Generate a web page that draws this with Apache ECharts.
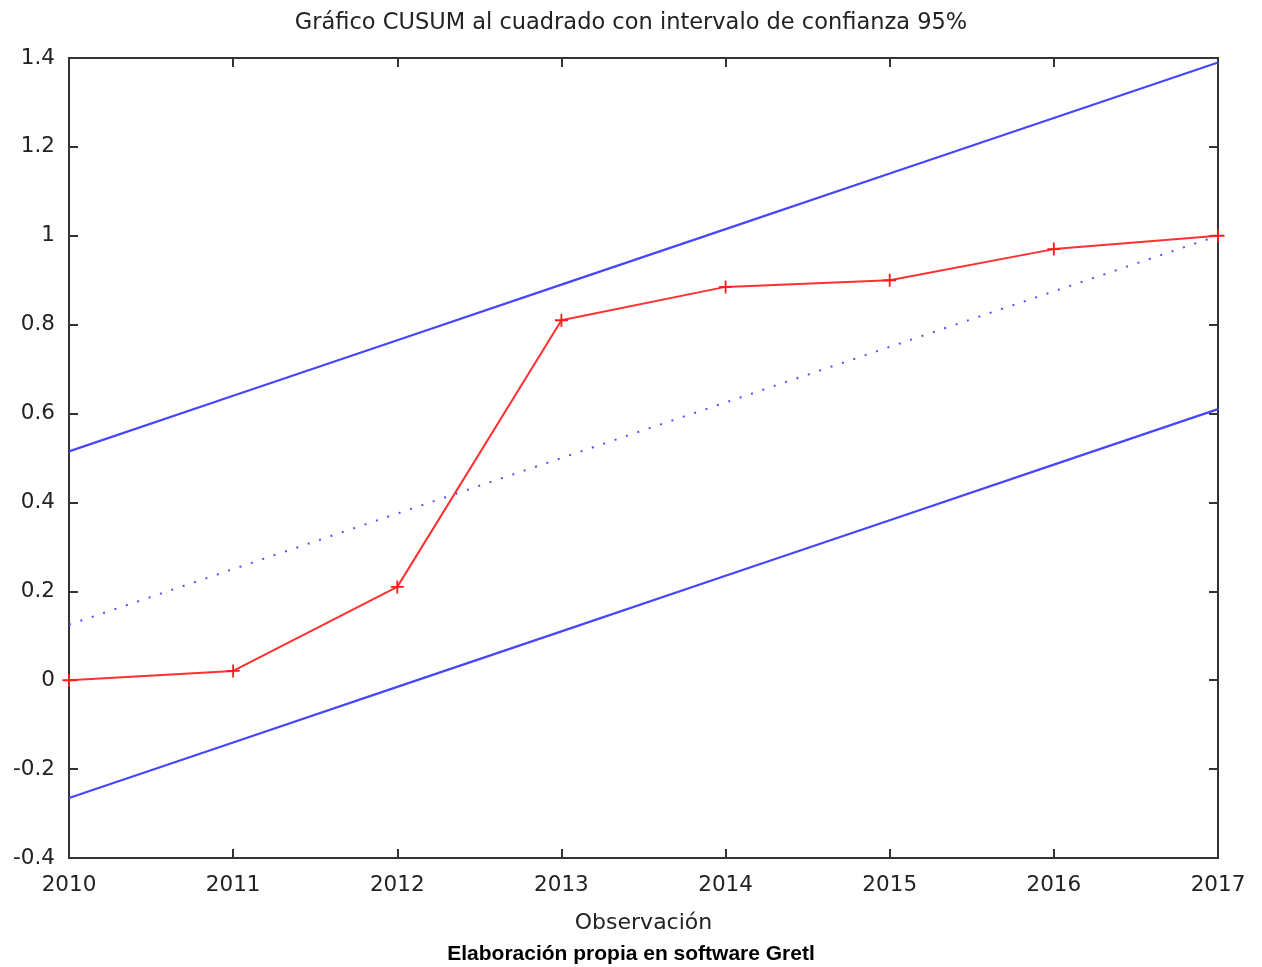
<!DOCTYPE html>
<html>
<head>
<meta charset="UTF-8">
<title>CUSUM al cuadrado</title>
<script src="https://cdn.jsdelivr.net/npm/echarts@6/dist/echarts.min.js"></script>
<style>
	body { margin: 0; background: #fff; }
	#chart { width: 1262px; height: 967px; }
</style>
</head>
<body>
	<div id="chart"></div>
	<script>
	// datos
	var years = [2010, 2011, 2012, 2013, 2014, 2015, 2016, 2017];
	var cusumsq = [0.0, 0.021, 0.21, 0.81, 0.885, 0.9, 0.97, 1.0];
	var expected = [0.125, 0.25, 0.375, 0.5, 0.625, 0.75, 0.875, 1.0];
	var upper = [0.515, 0.64, 0.765, 0.89, 1.015, 1.14, 1.265, 1.39];
	var lower = [-0.265, -0.14, -0.015, 0.11, 0.235, 0.36, 0.485, 0.61];

	function pairs(vals) {
		var out = [];
		for (var i = 0; i < years.length; i++) {
			out.push([years[i], vals[i]]);
		}
		return out;
	}

	var font = 'DejaVu Sans';
	var txt = '#222';
	var plus = 'path://M-0.14,-1 L0.14,-1 L0.14,-0.14 L1,-0.14 L1,0.14 L0.14,0.14 L0.14,1 L-0.14,1 L-0.14,0.14 L-1,0.14 L-1,-0.14 L-0.14,-0.14 Z';
	var axisLine = { show: true, onZero: false, lineStyle: { color: '#333', width: 2 } };
	var tickIn = { show: true, inside: true, length: 9, lineStyle: { color: '#333', width: 2 } };

	var chart = echarts.init(document.getElementById('chart'));
	chart.setOption({
		animation: false,
		backgroundColor: '#fff',
		title: [
			{
				text: 'Gráfico CUSUM al cuadrado con intervalo de confianza 95%',
				left: 'center',
				top: 7,
				textStyle: { fontFamily: font, fontSize: 22.5, fontWeight: 'normal', color: txt }
			},
			{
				text: 'Elaboración propia en software Gretl',
				left: 'center',
				top: 939,
				textStyle: { fontFamily: 'Liberation Sans', fontSize: 21, fontWeight: 'bold', color: '#000' }
			}
		],
		grid: { left: 69, right: 44, top: 58, bottom: 109 },
		xAxis: [
			{
				type: 'value',
				min: 2010,
				max: 2017,
				interval: 1,
				name: 'Observación',
				nameLocation: 'middle',
				nameGap: 54,
				nameTextStyle: { fontFamily: font, fontSize: 22, color: txt },
				axisLine: axisLine,
				axisTick: tickIn,
				splitLine: { show: false },
				axisLabel: { fontFamily: font, fontSize: 21.5, color: txt, margin: 16, formatter: function (v) { return String(v); } }
			},
			{
				type: 'value',
				position: 'top',
				min: 2010,
				max: 2017,
				interval: 1,
				axisLine: axisLine,
				axisTick: tickIn,
				splitLine: { show: false },
				axisLabel: { show: false }
			}
		],
		yAxis: [
			{
				type: 'value',
				min: -0.4,
				max: 1.4,
				interval: 0.2,
				axisLine: axisLine,
				axisTick: tickIn,
				splitLine: { show: false },
				axisLabel: {
					fontFamily: font, fontSize: 21.5, color: txt, margin: 14,
					formatter: function (v) {
						return String(Math.round(v * 10) / 10);
					}
				}
			},
			{
				type: 'value',
				position: 'right',
				min: -0.4,
				max: 1.4,
				interval: 0.2,
				axisLine: axisLine,
				axisTick: tickIn,
				splitLine: { show: false },
				axisLabel: { show: false }
			}
		],
		series: [
			{
				name: 'superior',
				type: 'line',
				data: pairs(upper),
				symbol: 'none',
				lineStyle: { color: '#4646ff', width: 2.2 }
			},
			{
				name: 'inferior',
				type: 'line',
				data: pairs(lower),
				symbol: 'none',
				lineStyle: { color: '#4646ff', width: 2.2 }
			},
			{
				name: 'esperado',
				type: 'line',
				data: pairs(expected),
				symbol: 'none',
				lineStyle: { color: '#5050ff', width: 2, type: [2, 10] }
			},
			{
				name: 'CUSUMSQ',
				type: 'line',
				data: pairs(cusumsq),
				symbol: plus,
				symbolSize: 13,
				showSymbol: true,
				itemStyle: { color: '#ff1a1a' },
				lineStyle: { color: '#ff3030', width: 2 }
			}
		]
	});
	</script>
</body>
</html>
